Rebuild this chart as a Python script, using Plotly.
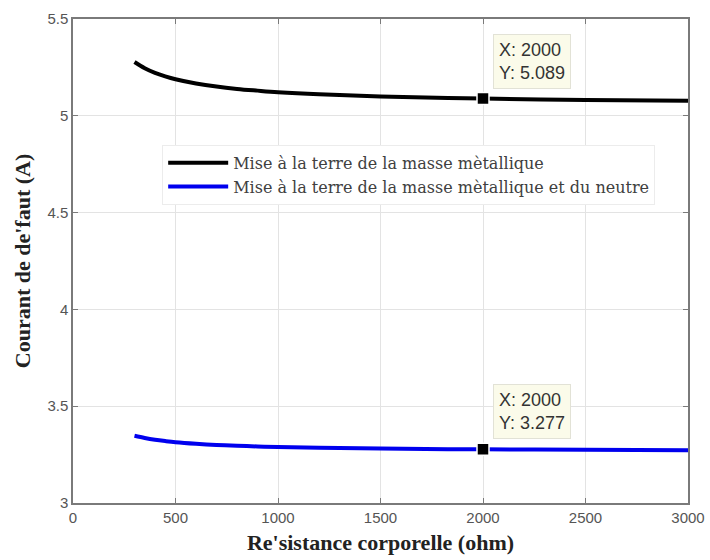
import plotly.graph_objects as go

# Body resistance (ohm) and fault current (A) for the two earthing schemes
resistance = [300, 350, 400, 450, 500, 600, 700, 800, 900, 1000, 1200, 1500, 2000, 2500, 3000]
current_masse = [5.278, 5.246, 5.222, 5.204, 5.189, 5.167, 5.151, 5.139, 5.130, 5.122, 5.111,
                 5.100, 5.089, 5.082, 5.078]
current_masse_neutre = [3.347, 3.336, 3.327, 3.320, 3.314, 3.306, 3.300, 3.296, 3.292, 3.289,
                        3.285, 3.281, 3.277, 3.275, 3.273]

label_masse = "Mise à la terre de la masse mètallique"
label_masse_neutre = "Mise à la terre de la masse mètallique et du neutre"

# Data-tip positions
tip_x = 2000
tip_y_masse = 5.089
tip_y_neutre = 3.277

x_ticks = [0, 500, 1000, 1500, 2000, 2500, 3000]
y_ticks = [3, 3.5, 4, 4.5, 5, 5.5]

fig = go.Figure()
fig.add_trace(go.Scatter(x=resistance, y=current_masse, mode="lines",
                         line=dict(color="black", width=4, shape="spline"),
                         name=label_masse))
fig.add_trace(go.Scatter(x=resistance, y=current_masse_neutre, mode="lines",
                         line=dict(color="#0000ee", width=4, shape="spline"),
                         name=label_masse_neutre))

# Data-tip markers
fig.add_trace(go.Scatter(x=[tip_x, tip_x], y=[tip_y_masse, tip_y_neutre], mode="markers",
                         marker=dict(symbol="square", size=12, color="black",
                                     line=dict(color="white", width=1.5)),
                         showlegend=False, hoverinfo="skip"))

for yv in (tip_y_masse, tip_y_neutre):
    fig.add_annotation(x=tip_x, y=yv, xref="x", yref="y",
                       text=f"X: {tip_x}<br>Y: {yv:.3f}",
                       showarrow=True, arrowcolor="rgba(0,0,0,0)", arrowwidth=0.1,
                       ax=10, ay=-10, xanchor="left", yanchor="bottom",
                       align="left",
                       font=dict(family="Liberation Sans, Arial", size=18, color="#333333"),
                       bgcolor="#fbfbea", bordercolor="#e2e2d6", borderwidth=1, borderpad=5)

axis_common = dict(showline=True, linecolor="#7a7a7a", linewidth=1.5, mirror="ticks",
                   ticks="inside", ticklen=5, tickcolor="#7a7a7a", automargin=False,
                   showgrid=True, gridcolor="#e3e3e3", gridwidth=1, zeroline=False,
                   tickfont=dict(family="Liberation Sans, Arial", size=15, color="#555555"))

fig.update_xaxes(range=[0, 3000], tickvals=x_ticks, **axis_common,
                 title=dict(text="<b>Re'sistance corporelle (ohm)</b>", standoff=10,
                            font=dict(family="Liberation Serif, Times New Roman", size=22,
                                      color="#222222")))
fig.update_yaxes(range=[3, 5.5], tickvals=y_ticks, tickformat="~g", **axis_common,
                 title=dict(text="<b>Courant de de'faut (A)</b>", standoff=11,
                            font=dict(family="Liberation Serif, Times New Roman", size=22,
                                      color="#222222")))

fig.update_layout(
    width=710, height=560,
    margin=dict(l=73, r=22, t=19, b=57),
    paper_bgcolor="white", plot_bgcolor="white",
    showlegend=True,
    legend=dict(x=0.145, y=0.74, xanchor="left", yanchor="top",
                bgcolor="white", bordercolor="#ececec", borderwidth=1,
                font=dict(family="DejaVu Serif", size=16, color="#404040"),
                tracegroupgap=0, itemwidth=60),
)

fig.write_html("out.html")
